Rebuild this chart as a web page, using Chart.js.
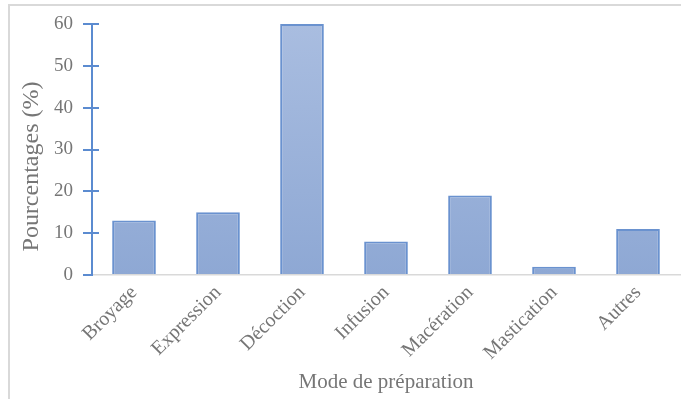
<!DOCTYPE html>
<html lang="fr">
<head>
<meta charset="utf-8">
<script src="https://cdn.jsdelivr.net/npm/chart.js@4/dist/chart.umd.min.js"></script>
<style>
  html, body { margin: 0; padding: 0; background: #ffffff; }
  #wrap { position: relative; width: 681px; height: 399px; overflow: hidden; }
  #frame {
    position: absolute; left: 8px; top: 4px; width: 700px; height: 420px;
    border-left: 2px solid #d9d9d9; border-top: 2px solid #d9d9d9;
    box-sizing: border-box; pointer-events: none;
  }
  canvas { position: absolute; left: 0; top: 0; }
</style>
</head>
<body>
<div id="wrap">
  <canvas id="chart" width="681" height="399"></canvas>
  <div id="frame"></div>
</div>
<script>
// Modes de préparation et pourcentages
const categories = ['Broyage', 'Expression', 'Décoction', 'Infusion', 'Macération', 'Mastication', 'Autres'];
const percentages = [13, 15, 60, 8, 19, 2, 11];
const yTicks = [0, 10, 20, 30, 40, 50, 60];
const yTitle = 'Pourcentages (%)';
const xTitle = 'Mode de préparation';

const serif = '"Liberation Serif", "DejaVu Serif", serif';
const textGrey = '#767676';
const axisBlue = '#5b8bd0';

// Vertical gradient for the bars
function barFill(context) {
  const chart = context.chart;
  const area = chart.chartArea;
  if (!area) return '#9bb3da';
  const g = chart.ctx.createLinearGradient(0, area.top, 0, area.bottom);
  g.addColorStop(0, '#a9bde0');
  g.addColorStop(1, '#8ea8d4');
  return g;
}

// Y-axis tick marks cross the axis line (inner half drawn here),
// and the vertical axis title sits a little below the plot's middle.
const axisExtras = {
  id: 'axisExtras',
  afterDraw(chart) {
    const y = chart.scales.y;
    const ctx = chart.ctx;
    ctx.save();
    ctx.strokeStyle = axisBlue;
    ctx.lineWidth = 2;
    y.ticks.forEach((t, i) => {
      if (t.value === 0) return;
      const py = Math.round(y.getPixelForTick(i));
      ctx.beginPath();
      ctx.moveTo(y.right, py);
      ctx.lineTo(y.right + 7, py);
      ctx.stroke();
    });
    ctx.translate(32, (chart.chartArea.top + chart.chartArea.bottom) / 2 + 17);
    ctx.rotate(-Math.PI / 2);
    ctx.fillStyle = textGrey;
    ctx.font = '24px ' + serif;
    ctx.textAlign = 'center';
    ctx.textBaseline = 'middle';
    ctx.fillText(yTitle, 0, 0);
    ctx.restore();
  }
};

new Chart(document.getElementById('chart'), {
  type: 'bar',
  data: {
    labels: categories,
    datasets: [{
      data: percentages,
      backgroundColor: barFill,
      borderColor: '#6a92cf',
      borderWidth: 2,
      categoryPercentage: 1,
      barPercentage: 0.52
    }]
  },
  options: {
    responsive: false,
    animation: false,
    events: [],
    layout: { padding: { left: 19, right: 1, top: 24, bottom: 4 } },
    plugins: {
      legend: { display: false },
      tooltip: { enabled: false }
    },
    scales: {
      x: {
        grid: { display: true, drawOnChartArea: false, drawTicks: false, color: '#d9d9d9' },
        border: { display: true, color: '#d9d9d9', width: 1.5 },
        ticks: {
          minRotation: 45, maxRotation: 45, padding: 6,
          color: textGrey, font: { family: serif, size: 20 }
        },
        title: {
          display: true, text: xTitle,
          color: textGrey, font: { family: serif, size: 21 },
          padding: { top: 0, bottom: 0 }
        },
        afterFit(scale) { scale.height = 120; }
      },
      y: {
        min: 0, max: 60,
        afterBuildTicks(scale) { scale.ticks = yTicks.map(v => ({ value: v })); },
        grid: { display: true, drawOnChartArea: false, drawTicks: true, tickLength: 9, color: axisBlue, lineWidth: 2 },
        border: { display: true, color: axisBlue, width: 2 },
        ticks: {
          padding: 10, color: textGrey, font: { family: serif, size: 19 }
        },
        afterFit(scale) { scale.width = 73; }
      }
    }
  },
  plugins: [axisExtras]
});
</script>
</body>
</html>
